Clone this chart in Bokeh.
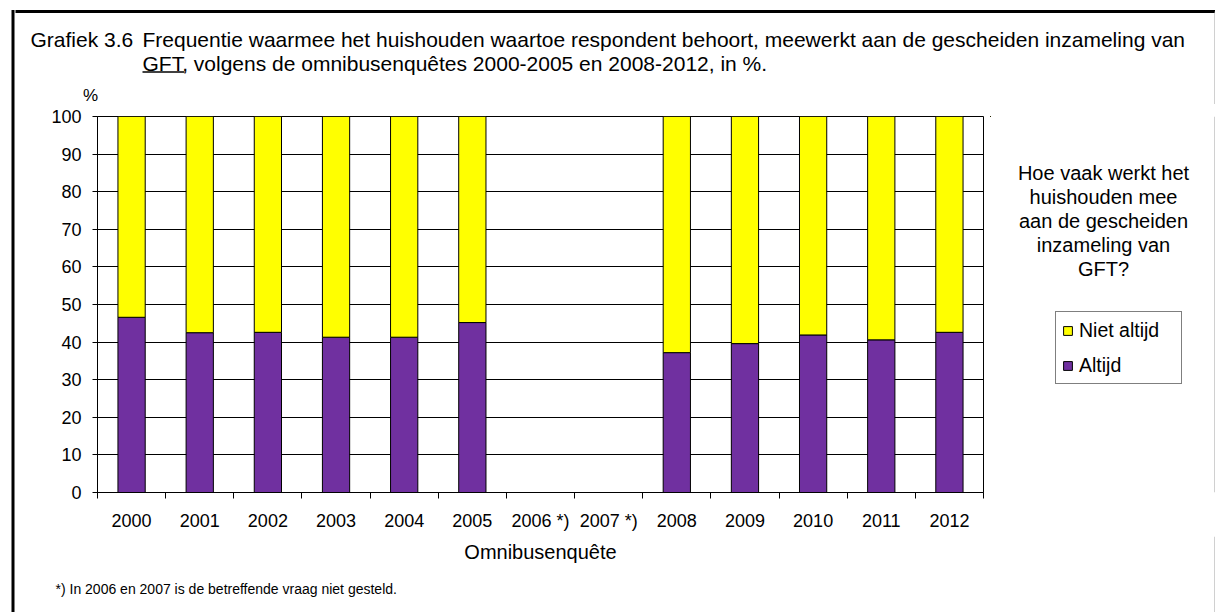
from bokeh.plotting import figure
from bokeh.layouts import row, column
from bokeh.models import (FixedTicker, Label, Legend, LegendItem, ColumnDataSource,
                          CustomJSTickFormatter, Range1d)
from bokeh.embed import file_html
from bokeh.resources import INLINE

# ---- data -------------------------------------------------------------
years = ["2000", "2001", "2002", "2003", "2004", "2005", "2006 *)", "2007 *)",
         "2008", "2009", "2010", "2011", "2012"]
altijd = [46.6, 42.5, 42.6, 41.3, 41.3, 45.2, None, None,
          37.2, 39.6, 41.9, 40.6, 42.6]
niet_altijd = [53.4, 57.5, 57.4, 58.7, 58.7, 54.8, None, None,
               62.8, 60.4, 58.1, 59.4, 57.4]
y_ticks = [0, 10, 20, 30, 40, 50, 60, 70, 80, 90, 100]
series_names = ["Altijd", "Niet altijd"]
question_lines = ["Hoe vaak werkt het", "huishouden mee", "aan de gescheiden",
                  "inzameling van", "GFT?"]
title_prefix = "Grafiek 3.6"
title_line1 = "Frequentie waarmee het huishouden waartoe respondent behoort, meewerkt aan de gescheiden inzameling van"
title_line2 = "GFT, volgens de omnibusenquêtes 2000-2005 en 2008-2012, in %."
footnote = "*) In 2006 en 2007 is de betreffende vraag niet gesteld."

FONT = "Liberation Sans"
PURPLE = "#7030A0"
YELLOW = "#FFFF00"
GREY = "#a0a0a0"

# page geometry (pixels from the page's top-left corner)
X_LEFT, X_PLOT, X_RIGHT, X_END = 0, 15, 990, 1215
Y_TOP, Y_ROW, Y_BOTTOM, Y_END = 0, 104, 536, 612
FRAME_L, FRAME_T, FRAME_R, FRAME_B = 97, 116, 983, 492


def canvas(x0, x1, y0, y1):
    """Auxiliary figure whose data coordinates equal page pixels."""
    f = figure(width=x1 - x0, height=y1 - y0, x_range=Range1d(x0, x1),
               y_range=Range1d(y1, y0), output_backend="svg",
               toolbar_location=None, x_axis_location=None,
               y_axis_location=None, min_border=0)
    f.xgrid.visible = False
    f.ygrid.visible = False
    f.outline_line_color = None
    f.background_fill_color = "white"
    f.border_fill_color = "white"
    return f


def lab(f, text, x, y, size, align="left"):
    f.add_layout(Label(x=x, y=y, text=text, text_font=FONT, text_font_size=size,
                       text_color="black", text_align=align,
                       text_baseline="middle"))


# ---- left border strip --------------------------------------------------
left = canvas(X_LEFT, X_PLOT, Y_TOP, Y_END)
left.segment(x0=[12.5], y0=[9.5], x1=[12.5], y1=[Y_END], line_color="black", line_width=3)

# ---- top strip (titles) -------------------------------------------------
top = canvas(X_PLOT, X_END, Y_TOP, Y_ROW)
top.segment(x0=[11], y0=[11], x1=[X_END], y1=[11], line_color="black", line_width=3)
top.segment(x0=[1214.5], y0=[11], x1=[1214.5], y1=[Y_ROW], line_color=GREY, line_width=1)
lab(top, title_prefix, 30, 39, "21px")
lab(top, title_line1, 142, 39, "21px")
lab(top, title_line2, 142, 62.5, "21px")
top.segment(x0=[142], y0=[71.5], x1=[184], y1=[71.5], line_color="black", line_width=1.5)
lab(top, "%", 90, 95, "17px", align="center")

# ---- main chart -------------------------------------------------------
rows_ = [i for i, v in enumerate(altijd) if v is not None]
src = ColumnDataSource(dict(
    x=[i + 0.5 for i in rows_],
    altijd=[altijd[i] for i in rows_],
    niet=[niet_altijd[i] for i in rows_],
))

BT, BB = FRAME_T - Y_ROW, Y_BOTTOM - FRAME_B
p = figure(width=X_RIGHT - X_PLOT, height=Y_BOTTOM - Y_ROW,
           x_range=(0, len(years)), y_range=(0, 100),
           output_backend="svg", toolbar_location=None,
           min_border_left=FRAME_L - X_PLOT, min_border_right=X_RIGHT - FRAME_R,
           min_border_top=BT, min_border_bottom=BB)
p.background_fill_color = "white"
p.border_fill_color = "white"
p.outline_line_color = "black"
p.outline_line_width = 1

rs = p.vbar_stack(["altijd", "niet"], x="x", width=0.4, source=src,
                  fill_color=[PURPLE, YELLOW], line_color="black", line_width=1)

p.xgrid.visible = False
p.ygrid.grid_line_color = "black"
p.ygrid.grid_line_width = 1

p.yaxis.ticker = FixedTicker(ticks=y_ticks)
p.yaxis.major_tick_in = 0
p.yaxis.major_tick_out = 5
p.yaxis.minor_tick_line_color = None
p.yaxis.axis_line_color = "black"
p.yaxis.major_tick_line_color = "black"
p.yaxis.major_label_text_font = FONT
p.yaxis.major_label_text_font_size = "18px"
p.yaxis.major_label_text_color = "black"
p.yaxis.major_label_standoff = 11

p.xaxis.ticker = FixedTicker(ticks=[i + 0.5 for i in range(len(years))],
                             minor_ticks=list(range(len(years) + 1)))
p.xaxis.formatter = CustomJSTickFormatter(args=dict(labels=years),
                                          code="return labels[Math.floor(tick)] || '';")
p.xaxis.major_tick_line_color = None
p.xaxis.major_tick_in = 0
p.xaxis.major_tick_out = 6
p.xaxis.minor_tick_in = 0
p.xaxis.minor_tick_out = 6
p.xaxis.minor_tick_line_color = "black"
p.xaxis.axis_line_color = "black"
p.xaxis.major_label_text_font = FONT
p.xaxis.major_label_text_font_size = "18px"
p.xaxis.major_label_text_color = "black"
p.xaxis.major_label_standoff = 12

# ---- right strip (question + legend); borders match the main chart ----
right = figure(width=X_END - X_RIGHT, height=Y_BOTTOM - Y_ROW,
               x_range=Range1d(X_RIGHT, X_END), y_range=Range1d(FRAME_B, FRAME_T),
               output_backend="svg", toolbar_location=None,
               x_axis_location=None, y_axis_location=None,
               min_border_left=0, min_border_right=0,
               min_border_top=BT, min_border_bottom=BB)
right.xgrid.visible = False
right.ygrid.visible = False
right.outline_line_color = None
right.background_fill_color = "white"
right.border_fill_color = "white"
right.segment(x0=[1214.5], y0=[FRAME_T], x1=[1214.5], y1=[FRAME_B], line_color=GREY, line_width=1)
for k, t in enumerate(question_lines):
    lab(right, t, 1103, 172 + 24 * k, "20px", align="center")
# legend proxies: same data, drawn outside this strip's visible range
proxies = right.vbar_stack(["altijd", "niet"], x="x", width=0.4, source=src,
                           fill_color=[PURPLE, YELLOW], line_color="black", line_width=1)
legend = Legend(items=[LegendItem(label=series_names[1], renderers=[proxies[1]]),
                       LegendItem(label=series_names[0], renderers=[proxies[0]])],
                location=(1055 - X_RIGHT, FRAME_B - 384))
legend.label_text_font = FONT
legend.label_text_font_size = "19.5px"
legend.label_text_color = "black"
legend.glyph_width = 11
legend.glyph_height = 11
legend.label_height = 24
legend.label_width = 96
legend.label_standoff = 6
legend.spacing = 11
legend.padding = 6
legend.margin = 0
legend.border_line_color = "black"
legend.border_line_width = 1
legend.background_fill_color = "white"
legend.background_fill_alpha = 1
right.add_layout(legend, "center")

# ---- bottom strip (axis title + footnote) -----------------------------
bottom = canvas(X_PLOT, X_END, Y_BOTTOM, Y_END)
bottom.segment(x0=[1214.5], y0=[Y_BOTTOM], x1=[1214.5], y1=[Y_END], line_color=GREY, line_width=1)
lab(bottom, "Omnibusenquête", 540, 551, "20px", align="center")
lab(bottom, footnote, 55, 588, "14px")

layout = row(left, column(top, row(p, right), bottom))
open("out.html", "w").write(file_html(layout, INLINE))
